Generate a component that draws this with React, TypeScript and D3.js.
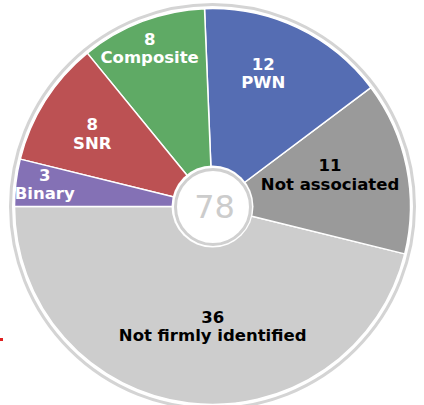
import React from "react";
import * as d3 from "d3";

const categories = ["Not firmly identified", "Not associated", "PWN", "Composite", "SNR", "Binary"];
const counts = [36, 11, 12, 8, 8, 3];
const colors = ["#cdcdcd", "#9a9a9a", "#556db3", "#5faa65", "#bc5153", "#8471b5"];
const textColors = ["#000000", "#000000", "#ffffff", "#ffffff", "#ffffff", "#ffffff"];
// label placement (layout only): radius fraction and angular nudge (degrees, counterclockwise)
const labelRadius = [0.605, 0.615, 0.72, 0.86, 0.71, 0.855];
const labelNudge = [7, 3.6, 4.5, 0.9, 1.1, -0.6];

const W = 424;
const H = 405;
const cx = 212.5;
const cy = 206.5;
const R = 198;

export default function App() {
  const total = d3.sum(counts);
  const pie = d3
    .pie<number>()
    .sort(null)
    .value((d) => d)
    .startAngle(-Math.PI / 2)
    .endAngle(-Math.PI / 2 - 2 * Math.PI);
  const arcs = pie(counts);
  const arc = d3.arc<d3.PieArcDatum<number>>().innerRadius(0).outerRadius(R);

  return (
    <svg
      width={W}
      height={H}
      style={{ position: "absolute", left: 0, top: 0, background: "#ffffff" }}
      fontFamily="'DejaVu Sans', sans-serif"
    >
      <rect x={0} y={0} width={W} height={H} fill="#ffffff" />
      <circle cx={cx} cy={cy} r={202} fill="none" stroke="#d4d4d4" strokeWidth={3} />
      <g transform={`translate(${cx},${cy})`}>
        {arcs.map((a, i) => (
          <path key={i} d={arc(a) || ""} fill={colors[i]} stroke="#ffffff" strokeWidth={1.5} strokeLinejoin="round" />
        ))}
        <circle cx={0} cy={0} r={41} fill="#ffffff" />
        <circle cx={0.5} cy={0.5} r={37.5} fill="#ffffff" stroke="#d0d0d0" strokeWidth={3} />
        <text x={2} y={0.5} textAnchor="middle" dominantBaseline="central" fontSize={32} fill="#cccccc">
          {total}
        </text>
        {arcs.map((a, i) => {
          const mid = (a.startAngle + a.endAngle) / 2 - (labelNudge[i] * Math.PI) / 180;
          const r = labelRadius[i] * R;
          const x = r * Math.sin(mid);
          const y = -r * Math.cos(mid);
          return (
            <text
              key={"l" + i}
              x={x}
              y={y}
              textAnchor="middle"
              fontSize={16.5}
              fontWeight="bold"
              fill={textColors[i]}
            >
              <tspan x={x} dy={-3.5}>{counts[i]}</tspan>
              <tspan x={x} dy={18.5}>{categories[i]}</tspan>
            </text>
          );
        })}
      </g>
      <rect x={0} y={338} width={3} height={3} fill="#e02020" />
    </svg>
  );
}
